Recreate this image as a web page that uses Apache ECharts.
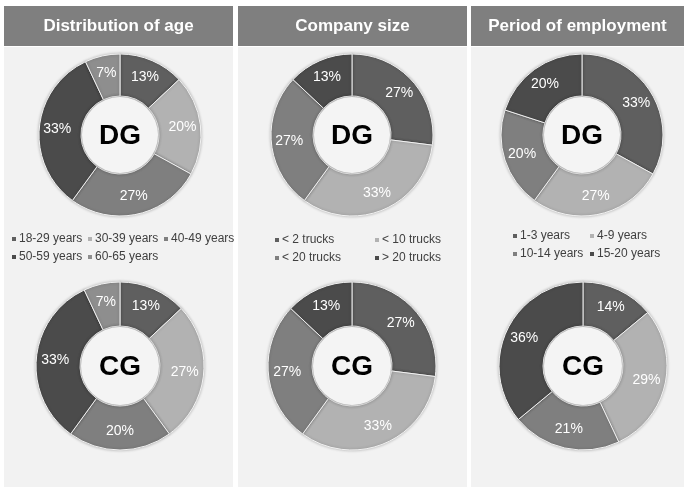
<!DOCTYPE html>
<html><head><meta charset="utf-8">
<script src="https://cdn.jsdelivr.net/npm/echarts@6/dist/echarts.min.js"></script>
<style>html,body{margin:0;padding:0;background:#fff}#c{width:688px;height:489px}</style>
</head><body><div id="c"></div>
<script>
// ---- data ----
const panelTitles = ['Distribution of age', 'Company size', 'Period of employment'];
const ageCats = ['18-29 years', '30-39 years', '40-49 years', '50-59 years', '60-65 years'];
const ageDG = [13, 20, 27, 33, 7];
const ageCG = [13, 27, 20, 33, 7];
const sizeCats = ['< 2 trucks', '< 10 trucks', '< 20 trucks', '> 20 trucks'];
const sizeDG = [27, 33, 27, 13];
const sizeCG = [27, 33, 27, 13];
const periodCats = ['1-3 years', '4-9 years', '10-14 years', '15-20 years'];
const periodDG = [33, 27, 20, 20];
const periodCG = [14, 29, 21, 36];
const groupLabels = ['DG', 'CG'];

// ---- styles ----
const ageColors = ['#5f5f5f', '#b2b2b2', '#7f7f7f', '#4b4b4b', '#8e8e8e'];
const fourColors = ['#5f5f5f', '#b2b2b2', '#7f7f7f', '#4b4b4b'];

const chart = echarts.init(document.getElementById('c'), null, {renderer: 'canvas'});

const panels = [
  {x: 4, w: 229, cx: 120, cats: ageCats, dg: ageDG, cg: ageCG, colors: ageColors, cgcx: 120},
  {x: 238, w: 229, cx: 352, cats: sizeCats, dg: sizeDG, cg: sizeCG, colors: fourColors, cgcx: 352},
  {x: 471, w: 213, cx: 582, cats: periodCats, dg: periodDG, cg: periodCG, colors: fourColors, cgcx: 583}
];

const graphic = [];
panels.forEach((p, i) => {
  graphic.push({type: 'rect', shape: {x: p.x, y: 47, width: p.w, height: 440}, style: {fill: '#f2f2f2'}, z: -10});
  graphic.push({type: 'rect', shape: {x: p.x, y: 6, width: p.w, height: 40}, style: {fill: '#7f7f7f'}, z: -9});
  graphic.push({type: 'text', x: p.x + p.w / 2, y: 26, style: {text: panelTitles[i], fill: '#fff', font: 'bold 17px "Liberation Sans", Arial', textAlign: 'center', textVerticalAlign: 'middle'}});
});

function mk(vals, cats, colors) {
  return vals.map((v, i) => ({value: v, name: cats[i], itemStyle: {color: colors[i]}}));
}

const series = [];
panels.forEach((p, i) => {
  [[p.dg, 135, 81, 39, 'DG', '"Liberation Sans", Arial', 14], [p.cg, 366, 84, 40, 'CG', '"Liberation Sans Narrow", "Liberation Sans", Arial', 14]].forEach(([vals, cy, ro, ri, g, lf, ls], k) => {
    series.push({
      type: 'pie', center: [k === 0 ? p.cx : p.cgcx, cy], radius: [ri, ro],
      startAngle: 90, clockwise: true, silent: true, animation: false,
      itemStyle: {borderColor: '#f2f2f2', borderWidth: 1, shadowBlur: 3, shadowColor: 'rgba(0,0,0,0.25)'},
      label: {show: true, position: 'inside', formatter: '{c}%', color: '#fff', fontSize: ls, fontFamily: lf},
      labelLine: {show: false},
      data: mk(vals, p.cats, p.colors)
    });
    graphic.push({type: 'circle', shape: {cx: k === 0 ? p.cx : p.cgcx, cy: cy, r: ri - 1}, style: {fill: '#f4f4f4', shadowBlur: 4, shadowColor: 'rgba(0,0,0,0.3)'}, z: 5});
    graphic.push({type: 'text', x: k === 0 ? p.cx : p.cgcx, y: cy + 1, style: {text: groupLabels[k], fill: '#000', font: 'bold 28px "Liberation Sans", Arial', textAlign: 'center', textVerticalAlign: 'middle'}, z: 6});
  });
});

// legends: one per item, positioned
const legendPos = [
  [ageCats[0], 10, 233], [ageCats[1], 86, 233], [ageCats[2], 162, 233],
  [ageCats[3], 10, 251], [ageCats[4], 86, 251],
  [sizeCats[0], 273, 234], [sizeCats[1], 373, 234],
  [sizeCats[2], 273, 252], [sizeCats[3], 373, 252],
  [periodCats[0], 511, 230], [periodCats[1], 588, 230],
  [periodCats[2], 511, 248], [periodCats[3], 588, 248]
];
const legend = legendPos.map(([n, x, y]) => ({
  data: [n], left: x, top: y, icon: 'rect', itemWidth: 6, itemHeight: 6, itemGap: 4, padding: 0,
  selectedMode: false,
  textStyle: {fontSize: 12, color: '#404040', fontFamily: '"Liberation Sans", Arial', padding: [0, 0, 0, -3]}
}));

chart.setOption({animation: false, graphic: graphic, series: series, legend: legend});
</script></body></html>
